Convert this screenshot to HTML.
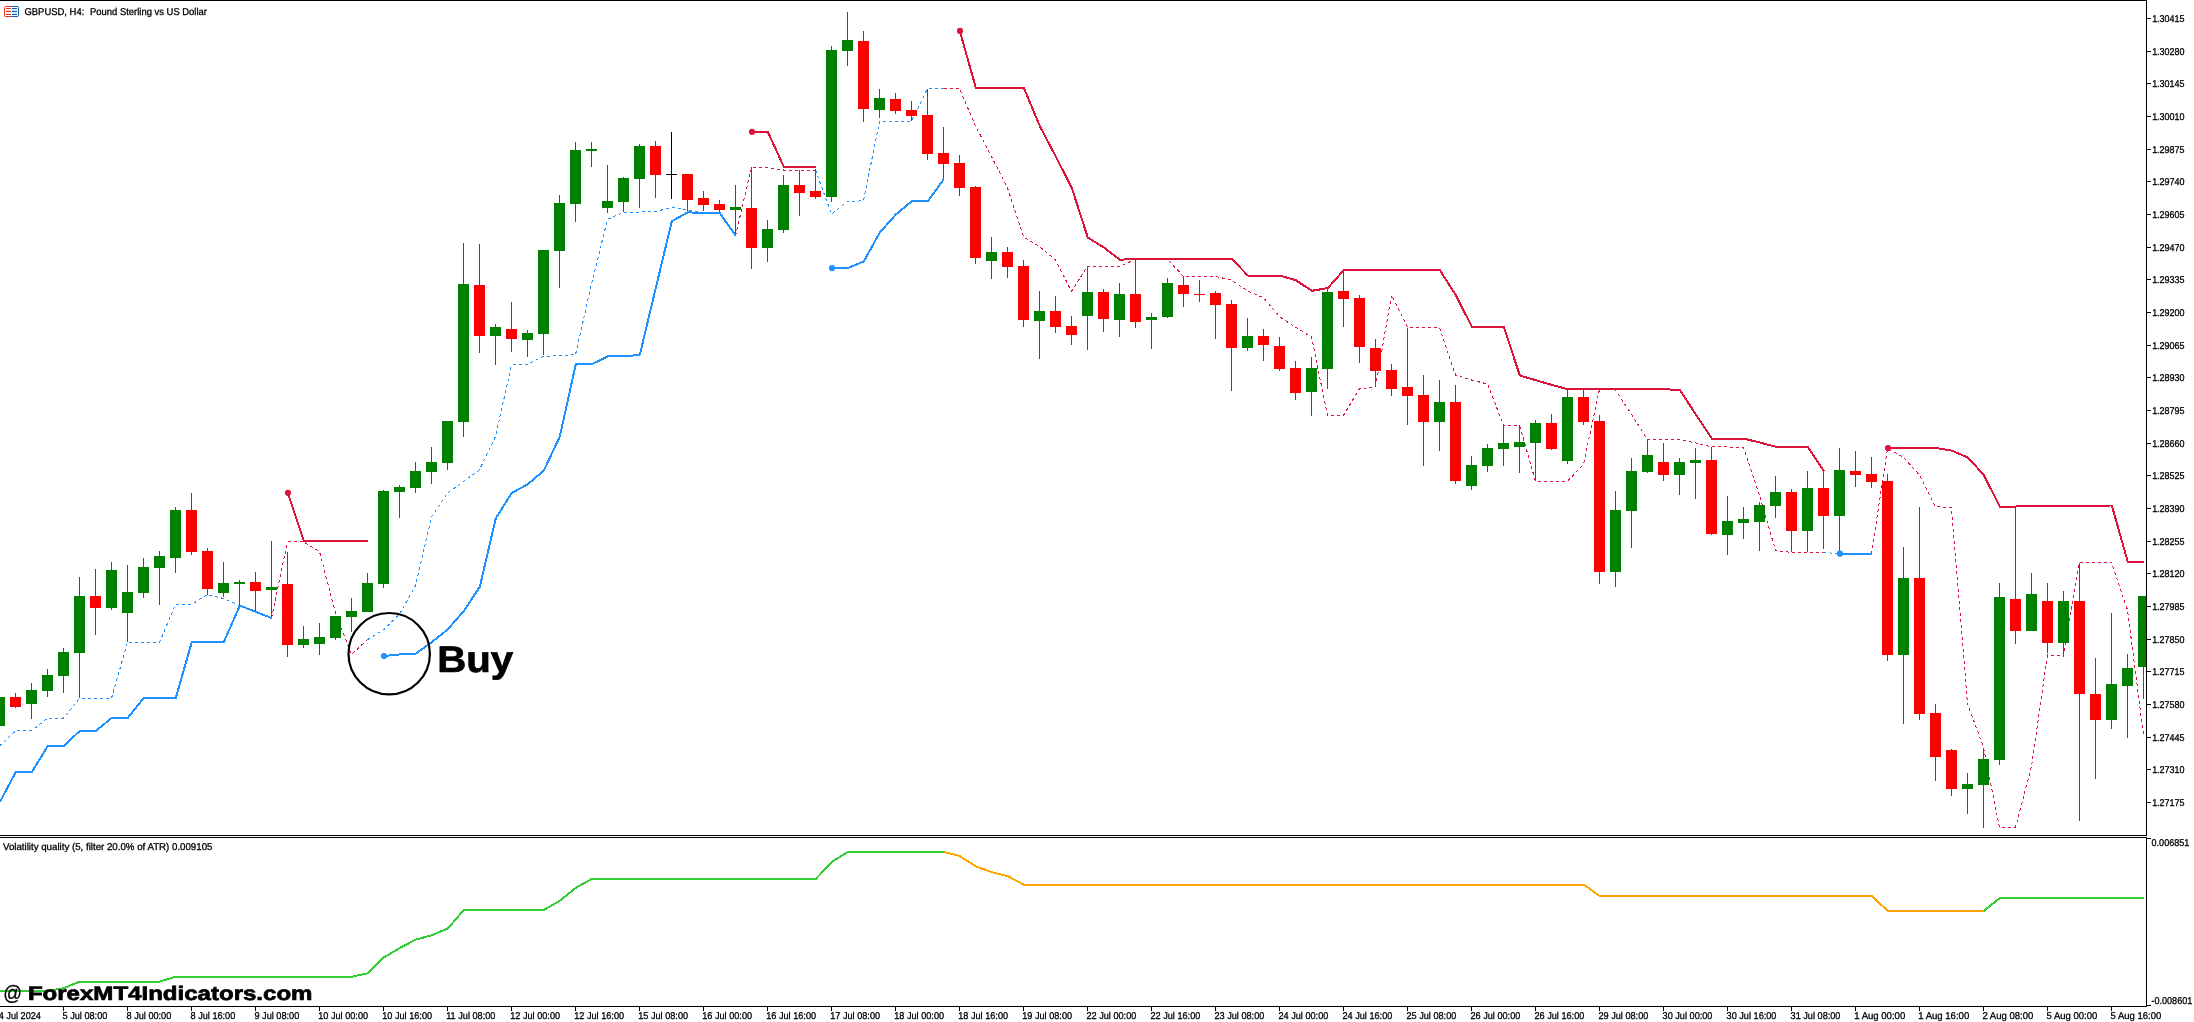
<!DOCTYPE html>
<html><head><meta charset="utf-8"><title>GBPUSD H4</title>
<style>html,body{margin:0;padding:0;background:#fff;}body{width:2194px;height:1022px;overflow:hidden;font-family:"Liberation Sans",sans-serif;}svg{display:block;will-change:transform;}text{font-family:"Liberation Sans",sans-serif;white-space:pre;text-rendering:geometricPrecision;}</style>
</head><body>
<svg width="2194" height="1022" viewBox="0 0 2194 1022">
<rect x="0" y="0" width="2194" height="1022" fill="#fff"/>
<defs><clipPath id="cm"><rect x="0" y="1" width="2146" height="834"/></clipPath><clipPath id="ci"><rect x="0" y="838" width="2146" height="168"/></clipPath></defs>
<g clip-path="url(#cm)">
<polyline points="-0.5,746.0 15.5,730.9 31.5,730.9 47.5,718.2 63.5,718.2 79.5,698.3 95.5,698.3 111.5,698.3 127.5,642.4 143.5,642.4 159.5,642.4 175.5,604.4 191.5,604.4 207.5,594.6 223.5,598.5 239.5,605.6 255.5,611.8 271.5,618.1" fill="none" stroke="#1E90FF" stroke-width="1" stroke-dasharray="3 3" shape-rendering="crispEdges"/>
<polyline points="271.5,618.1 287.5,541.8 303.5,541.8 319.5,551.6 335.5,613.0 351.5,654.5 367.5,639.6" fill="none" stroke="#DC143C" stroke-width="1" stroke-dasharray="3 3" shape-rendering="crispEdges"/>
<polyline points="367.5,639.6 383.5,629.9 399.5,614.2 415.5,585.5 431.5,517.0 447.5,493.0 463.5,481.6 479.5,469.7 495.5,436.6 511.5,365.0 527.5,364.2 543.5,356.4 559.5,355.6 575.5,354.8 591.5,284.0 607.5,219.4 623.5,212.3 639.5,212.0 655.5,211.5 671.5,207.5 687.5,209.6 703.5,213.1 719.5,213.1 735.5,235.8" fill="none" stroke="#1E90FF" stroke-width="1" stroke-dasharray="3 3" shape-rendering="crispEdges"/>
<polyline points="735.5,235.8 751.5,167.5 767.5,167.5 783.5,170.0 799.5,170.0 815.5,170.0" fill="none" stroke="#DC143C" stroke-width="1" stroke-dasharray="3 3" shape-rendering="crispEdges"/>
<polyline points="815.5,170.0 831.5,214.1 847.5,201.6 863.5,200.8 879.5,121.3 895.5,121.3 911.5,121.3 927.5,88.5 943.5,88.5" fill="none" stroke="#1E90FF" stroke-width="1" stroke-dasharray="3 3" shape-rendering="crispEdges"/>
<polyline points="943.5,88.5 959.5,88.5 975.5,126.0 991.5,156.6 1007.5,187.9 1023.5,236.8 1039.5,246.6 1055.5,259.9 1071.5,291.3 1087.5,266.3 1103.5,266.3 1119.5,266.5 1135.5,259.3 1151.5,259.5 1167.5,259.5 1183.5,276.3 1199.5,276.3 1215.5,276.3 1231.5,280.2 1247.5,290.8 1263.5,297.8 1279.5,316.6 1295.5,327.2 1311.5,337.0 1327.5,415.3 1343.5,415.3 1359.5,388.6 1375.5,387.1 1391.5,295.1 1407.5,327.2 1423.5,327.2 1439.5,327.2 1455.5,375.0 1471.5,380.0 1487.5,384.0 1503.5,425.2 1519.5,425.2 1535.5,481.2 1551.5,481.2 1567.5,481.2 1583.5,464.4 1599.5,389.2 1615.5,390.0 1631.5,414.3 1647.5,439.6 1663.5,439.6 1679.5,439.6 1695.5,442.9 1711.5,446.8 1727.5,447.0 1743.5,447.5 1759.5,495.7 1775.5,550.5 1791.5,552.4 1807.5,552.4 1823.5,552.4" fill="none" stroke="#DC143C" stroke-width="1" stroke-dasharray="3 3" shape-rendering="crispEdges"/>
<polyline points="1823.5,552.4 1839.5,553.7 1855.5,553.7 1871.5,553.7" fill="none" stroke="#1E90FF" stroke-width="1" stroke-dasharray="3 3" shape-rendering="crispEdges"/>
<polyline points="1871.5,553.7 1887.5,448.4 1903.5,457.4 1919.5,475.0 1935.5,506.7 1951.5,507.5 1967.5,704.0 1983.5,747.0 1999.5,827.3 2015.5,827.3 2031.5,766.6 2047.5,655.0 2063.5,656.2 2079.5,562.3 2095.5,562.3 2111.5,562.3 2127.5,610.0 2143.5,735.3" fill="none" stroke="#DC143C" stroke-width="1" stroke-dasharray="3 3" shape-rendering="crispEdges"/>
<g shape-rendering="crispEdges">
<rect x="-1" y="697" width="1" height="29" fill="#008000"/>
<rect x="-6" y="697" width="11" height="29" fill="#008000"/>
<rect x="15" y="693" width="1" height="15" fill="#FF0000"/>
<rect x="10" y="697" width="11" height="10" fill="#FF0000"/>
<rect x="31" y="683" width="1" height="36" fill="#008000"/>
<rect x="26" y="690" width="11" height="14" fill="#008000"/>
<rect x="47" y="669" width="1" height="28" fill="#008000"/>
<rect x="42" y="675" width="11" height="16" fill="#008000"/>
<rect x="63" y="648" width="1" height="45" fill="#008000"/>
<rect x="58" y="652" width="11" height="24" fill="#008000"/>
<rect x="79" y="577" width="1" height="121" fill="#008000"/>
<rect x="74" y="596" width="11" height="57" fill="#008000"/>
<rect x="95" y="569" width="1" height="66" fill="#FF0000"/>
<rect x="90" y="596" width="11" height="12" fill="#FF0000"/>
<rect x="111" y="562" width="1" height="48" fill="#008000"/>
<rect x="106" y="570" width="11" height="38" fill="#008000"/>
<rect x="127" y="565" width="1" height="77" fill="#008000"/>
<rect x="122" y="592" width="11" height="21" fill="#008000"/>
<rect x="143" y="558" width="1" height="40" fill="#008000"/>
<rect x="138" y="567" width="11" height="26" fill="#008000"/>
<rect x="159" y="551" width="1" height="54" fill="#008000"/>
<rect x="154" y="556" width="11" height="12" fill="#008000"/>
<rect x="175" y="507" width="1" height="66" fill="#008000"/>
<rect x="170" y="510" width="11" height="48" fill="#008000"/>
<rect x="191" y="493" width="1" height="62" fill="#FF0000"/>
<rect x="186" y="510" width="11" height="42" fill="#FF0000"/>
<rect x="207" y="548" width="1" height="47" fill="#FF0000"/>
<rect x="202" y="551" width="11" height="38" fill="#FF0000"/>
<rect x="223" y="562" width="1" height="35" fill="#008000"/>
<rect x="218" y="583" width="11" height="10" fill="#008000"/>
<rect x="239" y="580" width="1" height="26" fill="#008000"/>
<rect x="234" y="582" width="11" height="2" fill="#008000"/>
<rect x="255" y="572" width="1" height="39" fill="#FF0000"/>
<rect x="250" y="582" width="11" height="9" fill="#FF0000"/>
<rect x="271" y="541" width="1" height="77" fill="#008000"/>
<rect x="266" y="587" width="11" height="3" fill="#008000"/>
<rect x="287" y="552" width="1" height="105" fill="#FF0000"/>
<rect x="282" y="584" width="11" height="61" fill="#FF0000"/>
<rect x="303" y="626" width="1" height="22" fill="#008000"/>
<rect x="298" y="639" width="11" height="6" fill="#008000"/>
<rect x="319" y="623" width="1" height="32" fill="#008000"/>
<rect x="314" y="637" width="11" height="7" fill="#008000"/>
<rect x="335" y="616" width="1" height="24" fill="#008000"/>
<rect x="330" y="616" width="11" height="22" fill="#008000"/>
<rect x="351" y="598" width="1" height="34" fill="#008000"/>
<rect x="346" y="611" width="11" height="6" fill="#008000"/>
<rect x="367" y="573" width="1" height="39" fill="#008000"/>
<rect x="362" y="583" width="11" height="29" fill="#008000"/>
<rect x="383" y="490" width="1" height="98" fill="#008000"/>
<rect x="378" y="491" width="11" height="93" fill="#008000"/>
<rect x="399" y="485" width="1" height="33" fill="#008000"/>
<rect x="394" y="487" width="11" height="5" fill="#008000"/>
<rect x="415" y="462" width="1" height="31" fill="#008000"/>
<rect x="410" y="471" width="11" height="17" fill="#008000"/>
<rect x="431" y="447" width="1" height="37" fill="#008000"/>
<rect x="426" y="462" width="11" height="10" fill="#008000"/>
<rect x="447" y="421" width="1" height="49" fill="#008000"/>
<rect x="442" y="421" width="11" height="42" fill="#008000"/>
<rect x="463" y="243" width="1" height="194" fill="#008000"/>
<rect x="458" y="284" width="11" height="138" fill="#008000"/>
<rect x="479" y="244" width="1" height="109" fill="#FF0000"/>
<rect x="474" y="285" width="11" height="51" fill="#FF0000"/>
<rect x="495" y="324" width="1" height="41" fill="#008000"/>
<rect x="490" y="327" width="11" height="9" fill="#008000"/>
<rect x="511" y="302" width="1" height="50" fill="#FF0000"/>
<rect x="506" y="329" width="11" height="10" fill="#FF0000"/>
<rect x="527" y="330" width="1" height="27" fill="#008000"/>
<rect x="522" y="333" width="11" height="7" fill="#008000"/>
<rect x="543" y="250" width="1" height="105" fill="#008000"/>
<rect x="538" y="250" width="11" height="84" fill="#008000"/>
<rect x="559" y="195" width="1" height="93" fill="#008000"/>
<rect x="554" y="203" width="11" height="48" fill="#008000"/>
<rect x="575" y="142" width="1" height="80" fill="#008000"/>
<rect x="570" y="150" width="11" height="54" fill="#008000"/>
<rect x="591" y="142" width="1" height="25" fill="#008000"/>
<rect x="586" y="149" width="11" height="2" fill="#008000"/>
<rect x="607" y="165" width="1" height="48" fill="#008000"/>
<rect x="602" y="201" width="11" height="7" fill="#008000"/>
<rect x="623" y="177" width="1" height="35" fill="#008000"/>
<rect x="618" y="178" width="11" height="24" fill="#008000"/>
<rect x="639" y="144" width="1" height="64" fill="#008000"/>
<rect x="634" y="146" width="11" height="33" fill="#008000"/>
<rect x="655" y="141" width="1" height="57" fill="#FF0000"/>
<rect x="650" y="146" width="11" height="29" fill="#FF0000"/>
<rect x="671" y="132" width="1" height="67" fill="#000000"/>
<rect x="666" y="174" width="11" height="1" fill="#000000"/>
<rect x="687" y="174" width="1" height="38" fill="#FF0000"/>
<rect x="682" y="174" width="11" height="26" fill="#FF0000"/>
<rect x="703" y="191" width="1" height="20" fill="#FF0000"/>
<rect x="698" y="198" width="11" height="7" fill="#FF0000"/>
<rect x="719" y="200" width="1" height="14" fill="#FF0000"/>
<rect x="714" y="204" width="11" height="6" fill="#FF0000"/>
<rect x="735" y="185" width="1" height="50" fill="#008000"/>
<rect x="730" y="207" width="11" height="3" fill="#008000"/>
<rect x="751" y="167" width="1" height="102" fill="#FF0000"/>
<rect x="746" y="208" width="11" height="40" fill="#FF0000"/>
<rect x="767" y="220" width="1" height="42" fill="#008000"/>
<rect x="762" y="229" width="11" height="19" fill="#008000"/>
<rect x="783" y="175" width="1" height="58" fill="#008000"/>
<rect x="778" y="185" width="11" height="45" fill="#008000"/>
<rect x="799" y="170" width="1" height="46" fill="#FF0000"/>
<rect x="794" y="185" width="11" height="8" fill="#FF0000"/>
<rect x="815" y="169" width="1" height="30" fill="#FF0000"/>
<rect x="810" y="191" width="11" height="6" fill="#FF0000"/>
<rect x="831" y="46" width="1" height="156" fill="#008000"/>
<rect x="826" y="50" width="11" height="147" fill="#008000"/>
<rect x="847" y="12" width="1" height="54" fill="#008000"/>
<rect x="842" y="40" width="11" height="11" fill="#008000"/>
<rect x="863" y="31" width="1" height="91" fill="#FF0000"/>
<rect x="858" y="41" width="11" height="68" fill="#FF0000"/>
<rect x="879" y="89" width="1" height="29" fill="#008000"/>
<rect x="874" y="98" width="11" height="12" fill="#008000"/>
<rect x="895" y="93" width="1" height="21" fill="#FF0000"/>
<rect x="890" y="99" width="11" height="12" fill="#FF0000"/>
<rect x="911" y="101" width="1" height="20" fill="#FF0000"/>
<rect x="906" y="110" width="11" height="6" fill="#FF0000"/>
<rect x="927" y="89" width="1" height="71" fill="#FF0000"/>
<rect x="922" y="115" width="11" height="39" fill="#FF0000"/>
<rect x="943" y="127" width="1" height="52" fill="#FF0000"/>
<rect x="938" y="153" width="11" height="11" fill="#FF0000"/>
<rect x="959" y="155" width="1" height="41" fill="#FF0000"/>
<rect x="954" y="163" width="11" height="25" fill="#FF0000"/>
<rect x="975" y="186" width="1" height="78" fill="#FF0000"/>
<rect x="970" y="187" width="11" height="71" fill="#FF0000"/>
<rect x="991" y="237" width="1" height="42" fill="#008000"/>
<rect x="986" y="252" width="11" height="9" fill="#008000"/>
<rect x="1007" y="247" width="1" height="31" fill="#FF0000"/>
<rect x="1002" y="252" width="11" height="15" fill="#FF0000"/>
<rect x="1023" y="260" width="1" height="67" fill="#FF0000"/>
<rect x="1018" y="266" width="11" height="54" fill="#FF0000"/>
<rect x="1039" y="291" width="1" height="68" fill="#008000"/>
<rect x="1034" y="311" width="11" height="10" fill="#008000"/>
<rect x="1055" y="296" width="1" height="37" fill="#FF0000"/>
<rect x="1050" y="311" width="11" height="16" fill="#FF0000"/>
<rect x="1071" y="316" width="1" height="29" fill="#FF0000"/>
<rect x="1066" y="326" width="11" height="9" fill="#FF0000"/>
<rect x="1087" y="267" width="1" height="83" fill="#008000"/>
<rect x="1082" y="292" width="11" height="24" fill="#008000"/>
<rect x="1103" y="289" width="1" height="43" fill="#FF0000"/>
<rect x="1098" y="292" width="11" height="27" fill="#FF0000"/>
<rect x="1119" y="283" width="1" height="54" fill="#008000"/>
<rect x="1114" y="294" width="11" height="26" fill="#008000"/>
<rect x="1135" y="259" width="1" height="69" fill="#FF0000"/>
<rect x="1130" y="294" width="11" height="28" fill="#FF0000"/>
<rect x="1151" y="313" width="1" height="36" fill="#008000"/>
<rect x="1146" y="317" width="11" height="3" fill="#008000"/>
<rect x="1167" y="278" width="1" height="40" fill="#008000"/>
<rect x="1162" y="283" width="11" height="34" fill="#008000"/>
<rect x="1183" y="276" width="1" height="31" fill="#FF0000"/>
<rect x="1178" y="285" width="11" height="9" fill="#FF0000"/>
<rect x="1199" y="280" width="1" height="22" fill="#FF0000"/>
<rect x="1194" y="294" width="11" height="1" fill="#FF0000"/>
<rect x="1215" y="291" width="1" height="48" fill="#FF0000"/>
<rect x="1210" y="293" width="11" height="12" fill="#FF0000"/>
<rect x="1231" y="300" width="1" height="91" fill="#FF0000"/>
<rect x="1226" y="304" width="11" height="44" fill="#FF0000"/>
<rect x="1247" y="318" width="1" height="33" fill="#008000"/>
<rect x="1242" y="336" width="11" height="12" fill="#008000"/>
<rect x="1263" y="329" width="1" height="32" fill="#FF0000"/>
<rect x="1258" y="336" width="11" height="9" fill="#FF0000"/>
<rect x="1279" y="337" width="1" height="34" fill="#FF0000"/>
<rect x="1274" y="346" width="11" height="23" fill="#FF0000"/>
<rect x="1295" y="361" width="1" height="39" fill="#FF0000"/>
<rect x="1290" y="368" width="11" height="25" fill="#FF0000"/>
<rect x="1311" y="357" width="1" height="59" fill="#008000"/>
<rect x="1306" y="368" width="11" height="24" fill="#008000"/>
<rect x="1327" y="289" width="1" height="100" fill="#008000"/>
<rect x="1322" y="292" width="11" height="77" fill="#008000"/>
<rect x="1343" y="271" width="1" height="56" fill="#FF0000"/>
<rect x="1338" y="291" width="11" height="8" fill="#FF0000"/>
<rect x="1359" y="295" width="1" height="68" fill="#FF0000"/>
<rect x="1354" y="298" width="11" height="49" fill="#FF0000"/>
<rect x="1375" y="339" width="1" height="48" fill="#FF0000"/>
<rect x="1370" y="348" width="11" height="23" fill="#FF0000"/>
<rect x="1391" y="364" width="1" height="32" fill="#FF0000"/>
<rect x="1386" y="370" width="11" height="19" fill="#FF0000"/>
<rect x="1407" y="328" width="1" height="97" fill="#FF0000"/>
<rect x="1402" y="387" width="11" height="9" fill="#FF0000"/>
<rect x="1423" y="375" width="1" height="91" fill="#FF0000"/>
<rect x="1418" y="395" width="11" height="27" fill="#FF0000"/>
<rect x="1439" y="380" width="1" height="71" fill="#008000"/>
<rect x="1434" y="402" width="11" height="20" fill="#008000"/>
<rect x="1455" y="385" width="1" height="99" fill="#FF0000"/>
<rect x="1450" y="402" width="11" height="79" fill="#FF0000"/>
<rect x="1471" y="456" width="1" height="34" fill="#008000"/>
<rect x="1466" y="465" width="11" height="21" fill="#008000"/>
<rect x="1487" y="444" width="1" height="28" fill="#008000"/>
<rect x="1482" y="448" width="11" height="18" fill="#008000"/>
<rect x="1503" y="425" width="1" height="41" fill="#008000"/>
<rect x="1498" y="443" width="11" height="6" fill="#008000"/>
<rect x="1519" y="425" width="1" height="48" fill="#008000"/>
<rect x="1514" y="442" width="11" height="5" fill="#008000"/>
<rect x="1535" y="420" width="1" height="61" fill="#008000"/>
<rect x="1530" y="423" width="11" height="20" fill="#008000"/>
<rect x="1551" y="414" width="1" height="36" fill="#FF0000"/>
<rect x="1546" y="423" width="11" height="26" fill="#FF0000"/>
<rect x="1567" y="390" width="1" height="74" fill="#008000"/>
<rect x="1562" y="397" width="11" height="64" fill="#008000"/>
<rect x="1583" y="389" width="1" height="36" fill="#FF0000"/>
<rect x="1578" y="397" width="11" height="25" fill="#FF0000"/>
<rect x="1599" y="415" width="1" height="169" fill="#FF0000"/>
<rect x="1594" y="421" width="11" height="151" fill="#FF0000"/>
<rect x="1615" y="491" width="1" height="96" fill="#008000"/>
<rect x="1610" y="510" width="11" height="62" fill="#008000"/>
<rect x="1631" y="458" width="1" height="90" fill="#008000"/>
<rect x="1626" y="471" width="11" height="40" fill="#008000"/>
<rect x="1647" y="440" width="1" height="33" fill="#008000"/>
<rect x="1642" y="455" width="11" height="17" fill="#008000"/>
<rect x="1663" y="443" width="1" height="38" fill="#FF0000"/>
<rect x="1658" y="462" width="11" height="13" fill="#FF0000"/>
<rect x="1679" y="458" width="1" height="37" fill="#008000"/>
<rect x="1674" y="462" width="11" height="13" fill="#008000"/>
<rect x="1695" y="448" width="1" height="51" fill="#008000"/>
<rect x="1690" y="460" width="11" height="3" fill="#008000"/>
<rect x="1711" y="447" width="1" height="88" fill="#FF0000"/>
<rect x="1706" y="460" width="11" height="74" fill="#FF0000"/>
<rect x="1727" y="496" width="1" height="59" fill="#008000"/>
<rect x="1722" y="521" width="11" height="14" fill="#008000"/>
<rect x="1743" y="507" width="1" height="32" fill="#008000"/>
<rect x="1738" y="519" width="11" height="4" fill="#008000"/>
<rect x="1759" y="502" width="1" height="49" fill="#008000"/>
<rect x="1754" y="505" width="11" height="17" fill="#008000"/>
<rect x="1775" y="476" width="1" height="42" fill="#008000"/>
<rect x="1770" y="492" width="11" height="14" fill="#008000"/>
<rect x="1791" y="489" width="1" height="63" fill="#FF0000"/>
<rect x="1786" y="492" width="11" height="39" fill="#FF0000"/>
<rect x="1807" y="471" width="1" height="81" fill="#008000"/>
<rect x="1802" y="488" width="11" height="43" fill="#008000"/>
<rect x="1823" y="470" width="1" height="79" fill="#FF0000"/>
<rect x="1818" y="488" width="11" height="28" fill="#FF0000"/>
<rect x="1839" y="448" width="1" height="106" fill="#008000"/>
<rect x="1834" y="470" width="11" height="46" fill="#008000"/>
<rect x="1855" y="451" width="1" height="36" fill="#FF0000"/>
<rect x="1850" y="471" width="11" height="4" fill="#FF0000"/>
<rect x="1871" y="457" width="1" height="31" fill="#FF0000"/>
<rect x="1866" y="474" width="11" height="8" fill="#FF0000"/>
<rect x="1887" y="474" width="1" height="187" fill="#FF0000"/>
<rect x="1882" y="481" width="11" height="174" fill="#FF0000"/>
<rect x="1903" y="547" width="1" height="177" fill="#008000"/>
<rect x="1898" y="578" width="11" height="77" fill="#008000"/>
<rect x="1919" y="507" width="1" height="213" fill="#FF0000"/>
<rect x="1914" y="578" width="11" height="136" fill="#FF0000"/>
<rect x="1935" y="704" width="1" height="77" fill="#FF0000"/>
<rect x="1930" y="713" width="11" height="44" fill="#FF0000"/>
<rect x="1951" y="749" width="1" height="47" fill="#FF0000"/>
<rect x="1946" y="750" width="11" height="39" fill="#FF0000"/>
<rect x="1967" y="773" width="1" height="41" fill="#008000"/>
<rect x="1962" y="784" width="11" height="5" fill="#008000"/>
<rect x="1983" y="749" width="1" height="79" fill="#008000"/>
<rect x="1978" y="759" width="11" height="26" fill="#008000"/>
<rect x="1999" y="583" width="1" height="182" fill="#008000"/>
<rect x="1994" y="597" width="11" height="163" fill="#008000"/>
<rect x="2015" y="506" width="1" height="138" fill="#FF0000"/>
<rect x="2010" y="599" width="11" height="32" fill="#FF0000"/>
<rect x="2031" y="573" width="1" height="58" fill="#008000"/>
<rect x="2026" y="594" width="11" height="37" fill="#008000"/>
<rect x="2047" y="583" width="1" height="70" fill="#FF0000"/>
<rect x="2042" y="601" width="11" height="42" fill="#FF0000"/>
<rect x="2063" y="591" width="1" height="65" fill="#008000"/>
<rect x="2058" y="601" width="11" height="42" fill="#008000"/>
<rect x="2079" y="563" width="1" height="258" fill="#FF0000"/>
<rect x="2074" y="601" width="11" height="93" fill="#FF0000"/>
<rect x="2095" y="658" width="1" height="121" fill="#FF0000"/>
<rect x="2090" y="694" width="11" height="26" fill="#FF0000"/>
<rect x="2111" y="613" width="1" height="116" fill="#008000"/>
<rect x="2106" y="684" width="11" height="36" fill="#008000"/>
<rect x="2127" y="654" width="1" height="84" fill="#008000"/>
<rect x="2122" y="668" width="11" height="18" fill="#008000"/>
<rect x="2143" y="596" width="1" height="103" fill="#008000"/>
<rect x="2138" y="596" width="11" height="71" fill="#008000"/>
</g>
<polyline points="-0.19999999999999996,802.1 15.8,772.0 31.8,772.0 47.8,746.1 63.8,746.1 79.8,730.9 95.8,730.9 111.8,717.9 127.8,717.9 143.8,698.0 159.8,698.0 175.8,698.0 191.8,642.0 207.8,642.0 223.8,642.0 239.8,605.6 255.8,611.8 271.8,618.1" fill="none" stroke="#1E90FF" stroke-width="2" stroke-linejoin="round" shape-rendering="crispEdges"/>
<polyline points="287.8,492.8 303.8,541.0 319.8,541.0 335.8,541.0 351.8,541.0 367.8,541.0" fill="none" stroke="#DC143C" stroke-width="2" stroke-linejoin="round" shape-rendering="crispEdges"/>
<circle cx="288.0" cy="492.8" r="3.1" fill="#DC143C"/>
<polyline points="383.8,656.0 399.8,654.4 415.8,653.6 431.8,642.1 447.8,629.4 463.8,611.0 479.8,586.8 495.8,518.3 511.8,493.0 527.8,484.3 543.8,470.5 559.8,436.6 575.8,364.2 591.8,364.2 607.8,356.4 623.8,356.4 639.8,354.8 655.8,287.9 671.8,221.3 687.8,212.3 703.8,213.1 719.8,213.1 735.8,235.8" fill="none" stroke="#1E90FF" stroke-width="2" stroke-linejoin="round" shape-rendering="crispEdges"/>
<circle cx="384.0" cy="656.0" r="3.1" fill="#1E90FF"/>
<polyline points="751.8,131.8 767.8,131.8 783.8,166.8 799.8,166.8 815.8,166.8" fill="none" stroke="#DC143C" stroke-width="2" stroke-linejoin="round" shape-rendering="crispEdges"/>
<circle cx="752.0" cy="131.8" r="3.1" fill="#DC143C"/>
<polyline points="831.8,268.1 847.8,268.1 863.8,261.4 879.8,232.5 895.8,214.5 911.8,201.2 927.8,201.2 943.8,179.3" fill="none" stroke="#1E90FF" stroke-width="2" stroke-linejoin="round" shape-rendering="crispEdges"/>
<circle cx="832.0" cy="268.1" r="3.1" fill="#1E90FF"/>
<polyline points="959.8,30.9 975.8,87.7 991.8,87.7 1007.8,87.7 1023.8,87.7 1039.8,126.0 1055.8,156.6 1071.8,187.9 1087.8,237.6 1103.8,247.4 1119.8,259.7 1135.8,258.9 1151.8,258.9 1167.8,258.9 1183.8,258.9 1199.8,258.9 1215.8,258.9 1231.8,258.9 1247.8,275.5 1263.8,275.5 1279.8,275.5 1295.8,280.2 1311.8,290.8 1327.8,288.1 1343.8,270.1 1359.8,270.1 1375.8,270.1 1391.8,270.1 1407.8,270.1 1423.8,270.1 1439.8,270.1 1455.8,295.1 1471.8,326.7 1487.8,326.7 1503.8,326.7 1519.8,375.5 1535.8,380.2 1551.8,384.9 1567.8,389.2 1583.8,389.2 1599.8,389.2 1615.8,389.2 1631.8,389.2 1647.8,389.2 1663.8,389.2 1679.8,390.0 1695.8,414.3 1711.8,438.6 1727.8,438.6 1743.8,438.6 1759.8,442.5 1775.8,446.8 1791.8,446.8 1807.8,446.8 1823.8,471.0" fill="none" stroke="#DC143C" stroke-width="2" stroke-linejoin="round" shape-rendering="crispEdges"/>
<circle cx="960.0" cy="30.9" r="3.1" fill="#DC143C"/>
<polyline points="1839.8,553.7 1855.8,553.7 1871.8,553.7" fill="none" stroke="#1E90FF" stroke-width="2" stroke-linejoin="round" shape-rendering="crispEdges"/>
<circle cx="1840.0" cy="553.7" r="3.1" fill="#1E90FF"/>
<polyline points="1887.8,448.0 1903.8,448.0 1919.8,448.0 1935.8,448.0 1951.8,450.7 1967.8,457.4 1983.8,475.0 1999.8,506.7 2015.8,506.5 2031.8,506.3 2047.8,506.1 2063.8,505.9 2079.8,505.8 2095.8,505.6 2111.8,505.5 2127.8,561.9 2143.8,561.9" fill="none" stroke="#DC143C" stroke-width="2" stroke-linejoin="round" shape-rendering="crispEdges"/>
<circle cx="1888.0" cy="448.0" r="3.1" fill="#DC143C"/>
<circle cx="389.2" cy="653.7" r="40.7" fill="none" stroke="#000" stroke-width="2.2"/>
<text transform="translate(437.19,671.5) scale(1.0870,1)" font-size="37" font-weight="bold" fill="#000" stroke="#000" stroke-width="0.7">Buy</text>
</g>
<path d="M11.5,6.5 H5.5 Q4.5,6.5 4.5,7.5 V15.5 Q4.5,16.5 5.5,16.5 H11.5" fill="none" stroke="#DC3228" stroke-width="1"/>
<path d="M11.5,6.5 H17.5 Q18.5,6.5 18.5,7.5 V15.5 Q18.5,16.5 17.5,16.5 H11.5" fill="none" stroke="#0A5AAA" stroke-width="1"/>
<g shape-rendering="crispEdges">
<rect x="6" y="8" width="5" height="7" fill="#FFE8DC"/>
<rect x="12" y="8" width="5" height="7" fill="#CDECFF"/>
<rect x="6" y="8" width="5" height="1" fill="#DC3228"/>
<rect x="12" y="8" width="5" height="1" fill="#0A5AAA"/>
<rect x="6" y="11" width="5" height="1" fill="#DC3228"/>
<rect x="12" y="11" width="5" height="1" fill="#0A5AAA"/>
<rect x="6" y="14" width="5" height="1" fill="#DC3228"/>
<rect x="12" y="14" width="5" height="1" fill="#0A5AAA"/>
</g>
<text transform="translate(24.43,15) scale(0.9571,1)" font-size="9.9" fill="#000" stroke="#000" stroke-width="0.3">GBPUSD, H4:</text>
<text transform="translate(90.02,15) scale(0.9553,1)" font-size="9.9" fill="#000" stroke="#000" stroke-width="0.3">Pound Sterling vs US Dollar</text>
<g shape-rendering="crispEdges" fill="#000">
<rect x="0" y="0" width="2147" height="1"/>
<rect x="0" y="835" width="2147" height="1"/>
<rect x="0" y="837" width="2147" height="1"/>
<rect x="2146" y="0" width="1" height="836"/>
<rect x="2146" y="837" width="1" height="170"/>
<rect x="0" y="1006" width="2147" height="1"/>
<rect x="2147" y="18" width="4" height="1"/>
<rect x="2147" y="51" width="4" height="1"/>
<rect x="2147" y="83" width="4" height="1"/>
<rect x="2147" y="116" width="4" height="1"/>
<rect x="2147" y="149" width="4" height="1"/>
<rect x="2147" y="181" width="4" height="1"/>
<rect x="2147" y="214" width="4" height="1"/>
<rect x="2147" y="247" width="4" height="1"/>
<rect x="2147" y="279" width="4" height="1"/>
<rect x="2147" y="312" width="4" height="1"/>
<rect x="2147" y="345" width="4" height="1"/>
<rect x="2147" y="377" width="4" height="1"/>
<rect x="2147" y="410" width="4" height="1"/>
<rect x="2147" y="443" width="4" height="1"/>
<rect x="2147" y="475" width="4" height="1"/>
<rect x="2147" y="508" width="4" height="1"/>
<rect x="2147" y="541" width="4" height="1"/>
<rect x="2147" y="573" width="4" height="1"/>
<rect x="2147" y="606" width="4" height="1"/>
<rect x="2147" y="639" width="4" height="1"/>
<rect x="2147" y="671" width="4" height="1"/>
<rect x="2147" y="704" width="4" height="1"/>
<rect x="2147" y="737" width="4" height="1"/>
<rect x="2147" y="769" width="4" height="1"/>
<rect x="2147" y="802" width="4" height="1"/>
<rect x="2147" y="838" width="4" height="1"/>
<rect x="2147" y="1005" width="4" height="1"/>
<rect x="63" y="1007" width="1" height="4"/>
<rect x="127" y="1007" width="1" height="4"/>
<rect x="191" y="1007" width="1" height="4"/>
<rect x="255" y="1007" width="1" height="4"/>
<rect x="319" y="1007" width="1" height="4"/>
<rect x="383" y="1007" width="1" height="4"/>
<rect x="447" y="1007" width="1" height="4"/>
<rect x="511" y="1007" width="1" height="4"/>
<rect x="575" y="1007" width="1" height="4"/>
<rect x="639" y="1007" width="1" height="4"/>
<rect x="703" y="1007" width="1" height="4"/>
<rect x="767" y="1007" width="1" height="4"/>
<rect x="831" y="1007" width="1" height="4"/>
<rect x="895" y="1007" width="1" height="4"/>
<rect x="959" y="1007" width="1" height="4"/>
<rect x="1023" y="1007" width="1" height="4"/>
<rect x="1087" y="1007" width="1" height="4"/>
<rect x="1151" y="1007" width="1" height="4"/>
<rect x="1215" y="1007" width="1" height="4"/>
<rect x="1279" y="1007" width="1" height="4"/>
<rect x="1343" y="1007" width="1" height="4"/>
<rect x="1407" y="1007" width="1" height="4"/>
<rect x="1471" y="1007" width="1" height="4"/>
<rect x="1535" y="1007" width="1" height="4"/>
<rect x="1599" y="1007" width="1" height="4"/>
<rect x="1663" y="1007" width="1" height="4"/>
<rect x="1727" y="1007" width="1" height="4"/>
<rect x="1791" y="1007" width="1" height="4"/>
<rect x="1855" y="1007" width="1" height="4"/>
<rect x="1919" y="1007" width="1" height="4"/>
<rect x="1983" y="1007" width="1" height="4"/>
<rect x="2047" y="1007" width="1" height="4"/>
<rect x="2111" y="1007" width="1" height="4"/>
</g>
<text transform="translate(2152.13,22) scale(0.9069,1)" font-size="9.9" fill="#000" stroke="#000" stroke-width="0.3">1.30415</text>
<text transform="translate(2152.13,55) scale(0.9069,1)" font-size="9.9" fill="#000" stroke="#000" stroke-width="0.3">1.30280</text>
<text transform="translate(2152.13,87) scale(0.9069,1)" font-size="9.9" fill="#000" stroke="#000" stroke-width="0.3">1.30145</text>
<text transform="translate(2152.13,120) scale(0.9069,1)" font-size="9.9" fill="#000" stroke="#000" stroke-width="0.3">1.30010</text>
<text transform="translate(2152.13,153) scale(0.9069,1)" font-size="9.9" fill="#000" stroke="#000" stroke-width="0.3">1.29875</text>
<text transform="translate(2152.13,185) scale(0.9069,1)" font-size="9.9" fill="#000" stroke="#000" stroke-width="0.3">1.29740</text>
<text transform="translate(2152.13,218) scale(0.9069,1)" font-size="9.9" fill="#000" stroke="#000" stroke-width="0.3">1.29605</text>
<text transform="translate(2152.13,251) scale(0.9069,1)" font-size="9.9" fill="#000" stroke="#000" stroke-width="0.3">1.29470</text>
<text transform="translate(2152.13,283) scale(0.9069,1)" font-size="9.9" fill="#000" stroke="#000" stroke-width="0.3">1.29335</text>
<text transform="translate(2152.13,316) scale(0.9069,1)" font-size="9.9" fill="#000" stroke="#000" stroke-width="0.3">1.29200</text>
<text transform="translate(2152.13,349) scale(0.9069,1)" font-size="9.9" fill="#000" stroke="#000" stroke-width="0.3">1.29065</text>
<text transform="translate(2152.13,381) scale(0.9069,1)" font-size="9.9" fill="#000" stroke="#000" stroke-width="0.3">1.28930</text>
<text transform="translate(2152.13,414) scale(0.9069,1)" font-size="9.9" fill="#000" stroke="#000" stroke-width="0.3">1.28795</text>
<text transform="translate(2152.13,447) scale(0.9069,1)" font-size="9.9" fill="#000" stroke="#000" stroke-width="0.3">1.28660</text>
<text transform="translate(2152.13,479) scale(0.9069,1)" font-size="9.9" fill="#000" stroke="#000" stroke-width="0.3">1.28525</text>
<text transform="translate(2152.13,512) scale(0.9069,1)" font-size="9.9" fill="#000" stroke="#000" stroke-width="0.3">1.28390</text>
<text transform="translate(2152.13,545) scale(0.9069,1)" font-size="9.9" fill="#000" stroke="#000" stroke-width="0.3">1.28255</text>
<text transform="translate(2152.13,577) scale(0.9069,1)" font-size="9.9" fill="#000" stroke="#000" stroke-width="0.3">1.28120</text>
<text transform="translate(2152.13,610) scale(0.9069,1)" font-size="9.9" fill="#000" stroke="#000" stroke-width="0.3">1.27985</text>
<text transform="translate(2152.13,643) scale(0.9069,1)" font-size="9.9" fill="#000" stroke="#000" stroke-width="0.3">1.27850</text>
<text transform="translate(2152.13,675) scale(0.9069,1)" font-size="9.9" fill="#000" stroke="#000" stroke-width="0.3">1.27715</text>
<text transform="translate(2152.13,708) scale(0.9069,1)" font-size="9.9" fill="#000" stroke="#000" stroke-width="0.3">1.27580</text>
<text transform="translate(2152.13,741) scale(0.9069,1)" font-size="9.9" fill="#000" stroke="#000" stroke-width="0.3">1.27445</text>
<text transform="translate(2152.13,773) scale(0.9069,1)" font-size="9.9" fill="#000" stroke="#000" stroke-width="0.3">1.27310</text>
<text transform="translate(2152.13,806) scale(0.9069,1)" font-size="9.9" fill="#000" stroke="#000" stroke-width="0.3">1.27175</text>
<text transform="translate(2151.54,846) scale(0.9179,1)" font-size="9.9" fill="#000" stroke="#000" stroke-width="0.3">0.006851</text>
<text transform="translate(2151.49,1004) scale(0.9162,1)" font-size="9.9" fill="#000" stroke="#000" stroke-width="0.3">-0.008601</text>
<text transform="translate(-1.31,1019) scale(0.9272,1)" font-size="9.9" fill="#000" stroke="#000" stroke-width="0.3">4 Jul 2024</text>
<text transform="translate(62.53,1019) scale(0.9272,1)" font-size="9.9" fill="#000" stroke="#000" stroke-width="0.3">5 Jul 08:00</text>
<text transform="translate(126.51,1019) scale(0.9272,1)" font-size="9.9" fill="#000" stroke="#000" stroke-width="0.3">8 Jul 00:00</text>
<text transform="translate(190.51,1019) scale(0.9272,1)" font-size="9.9" fill="#000" stroke="#000" stroke-width="0.3">8 Jul 16:00</text>
<text transform="translate(254.46,1019) scale(0.9272,1)" font-size="9.9" fill="#000" stroke="#000" stroke-width="0.3">9 Jul 08:00</text>
<text transform="translate(318.21,1019) scale(0.9272,1)" font-size="9.9" fill="#000" stroke="#000" stroke-width="0.3">10 Jul 00:00</text>
<text transform="translate(382.21,1019) scale(0.9272,1)" font-size="9.9" fill="#000" stroke="#000" stroke-width="0.3">10 Jul 16:00</text>
<text transform="translate(446.21,1019) scale(0.9272,1)" font-size="9.9" fill="#000" stroke="#000" stroke-width="0.3">11 Jul 08:00</text>
<text transform="translate(510.21,1019) scale(0.9272,1)" font-size="9.9" fill="#000" stroke="#000" stroke-width="0.3">12 Jul 00:00</text>
<text transform="translate(574.21,1019) scale(0.9272,1)" font-size="9.9" fill="#000" stroke="#000" stroke-width="0.3">12 Jul 16:00</text>
<text transform="translate(638.21,1019) scale(0.9272,1)" font-size="9.9" fill="#000" stroke="#000" stroke-width="0.3">15 Jul 08:00</text>
<text transform="translate(702.21,1019) scale(0.9272,1)" font-size="9.9" fill="#000" stroke="#000" stroke-width="0.3">16 Jul 00:00</text>
<text transform="translate(766.21,1019) scale(0.9272,1)" font-size="9.9" fill="#000" stroke="#000" stroke-width="0.3">16 Jul 16:00</text>
<text transform="translate(830.21,1019) scale(0.9272,1)" font-size="9.9" fill="#000" stroke="#000" stroke-width="0.3">17 Jul 08:00</text>
<text transform="translate(894.21,1019) scale(0.9272,1)" font-size="9.9" fill="#000" stroke="#000" stroke-width="0.3">18 Jul 00:00</text>
<text transform="translate(958.21,1019) scale(0.9272,1)" font-size="9.9" fill="#000" stroke="#000" stroke-width="0.3">18 Jul 16:00</text>
<text transform="translate(1022.21,1019) scale(0.9272,1)" font-size="9.9" fill="#000" stroke="#000" stroke-width="0.3">19 Jul 08:00</text>
<text transform="translate(1086.44,1019) scale(0.9272,1)" font-size="9.9" fill="#000" stroke="#000" stroke-width="0.3">22 Jul 00:00</text>
<text transform="translate(1150.44,1019) scale(0.9272,1)" font-size="9.9" fill="#000" stroke="#000" stroke-width="0.3">22 Jul 16:00</text>
<text transform="translate(1214.44,1019) scale(0.9272,1)" font-size="9.9" fill="#000" stroke="#000" stroke-width="0.3">23 Jul 08:00</text>
<text transform="translate(1278.44,1019) scale(0.9272,1)" font-size="9.9" fill="#000" stroke="#000" stroke-width="0.3">24 Jul 00:00</text>
<text transform="translate(1342.44,1019) scale(0.9272,1)" font-size="9.9" fill="#000" stroke="#000" stroke-width="0.3">24 Jul 16:00</text>
<text transform="translate(1406.44,1019) scale(0.9272,1)" font-size="9.9" fill="#000" stroke="#000" stroke-width="0.3">25 Jul 08:00</text>
<text transform="translate(1470.44,1019) scale(0.9272,1)" font-size="9.9" fill="#000" stroke="#000" stroke-width="0.3">26 Jul 00:00</text>
<text transform="translate(1534.44,1019) scale(0.9272,1)" font-size="9.9" fill="#000" stroke="#000" stroke-width="0.3">26 Jul 16:00</text>
<text transform="translate(1598.44,1019) scale(0.9272,1)" font-size="9.9" fill="#000" stroke="#000" stroke-width="0.3">29 Jul 08:00</text>
<text transform="translate(1662.56,1019) scale(0.9272,1)" font-size="9.9" fill="#000" stroke="#000" stroke-width="0.3">30 Jul 00:00</text>
<text transform="translate(1726.56,1019) scale(0.9272,1)" font-size="9.9" fill="#000" stroke="#000" stroke-width="0.3">30 Jul 16:00</text>
<text transform="translate(1790.56,1019) scale(0.9272,1)" font-size="9.9" fill="#000" stroke="#000" stroke-width="0.3">31 Jul 08:00</text>
<text transform="translate(1854.18,1019) scale(0.9685,1)" font-size="9.9" fill="#000" stroke="#000" stroke-width="0.3">1 Aug 00:00</text>
<text transform="translate(1918.18,1019) scale(0.9685,1)" font-size="9.9" fill="#000" stroke="#000" stroke-width="0.3">1 Aug 16:00</text>
<text transform="translate(1982.42,1019) scale(0.9639,1)" font-size="9.9" fill="#000" stroke="#000" stroke-width="0.3">2 Aug 08:00</text>
<text transform="translate(2046.52,1019) scale(0.9621,1)" font-size="9.9" fill="#000" stroke="#000" stroke-width="0.3">5 Aug 00:00</text>
<text transform="translate(2110.52,1019) scale(0.9621,1)" font-size="9.9" fill="#000" stroke="#000" stroke-width="0.3">5 Aug 16:00</text>
<text transform="translate(2.95,850) scale(0.9820,1)" font-size="9.9" fill="#000" stroke="#000" stroke-width="0.3">Volatility quality (5, filter 20.0% of ATR) 0.009105</text>
<g clip-path="url(#ci)">
<polyline points="-16.2,991.0 47.8,991.0 63.8,988.2 79.8,981.5 159.8,981.5 175.8,976.7 351.8,976.7 367.8,973.3 383.8,957.5 399.8,948.0 415.8,939.6 431.8,935.2 447.8,928.5 463.8,910.0 543.8,910.0 559.8,900.8 575.8,887.8 591.8,878.9 815.8,878.9 831.8,862.0 847.8,851.9 943.8,851.9" fill="none" stroke="#32CD32" stroke-width="2" stroke-linejoin="round" shape-rendering="crispEdges"/>
<polyline points="943.8,851.9 959.8,856.0 975.8,866.4 991.8,872.2 1007.8,876.2 1023.8,884.6 1583.8,884.6 1599.8,896.1 1871.8,896.1 1887.8,910.9 1983.8,910.9" fill="none" stroke="#FFA500" stroke-width="2" stroke-linejoin="round" shape-rendering="crispEdges"/>
<polyline points="1983.8,910.9 1999.8,898.1 2143.8,898.1" fill="none" stroke="#32CD32" stroke-width="2" stroke-linejoin="round" shape-rendering="crispEdges"/>
</g>
<text transform="translate(3.27,1000.0304347826087) scale(0.8850,1)" font-size="20.87" fill="#000" stroke="#000" stroke-width="0.3">@</text>
<text transform="translate(27.88,999.6) scale(1.2272,1)" font-size="19.6" font-weight="bold" fill="#000" stroke="#000" stroke-width="0.7">ForexMT4Indicators.com</text>
</svg></body></html>
